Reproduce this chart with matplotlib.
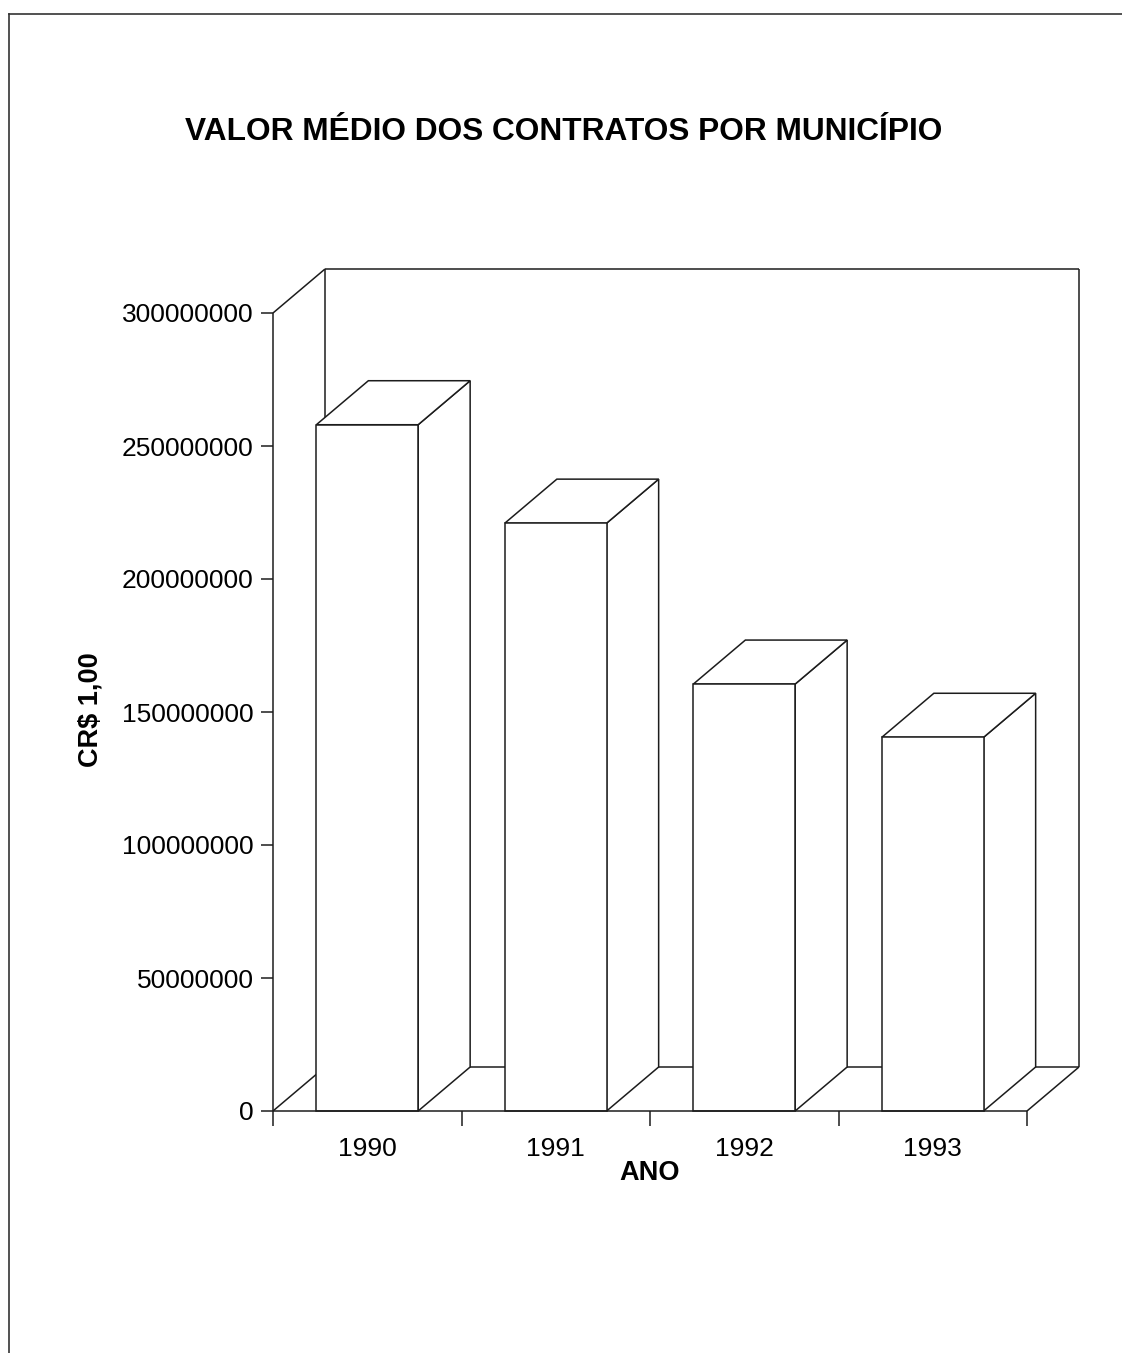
import matplotlib
matplotlib.use("Agg")
import matplotlib.pyplot as plt
from matplotlib.patches import Polygon
from matplotlib.lines import Line2D
import numpy as np

# ---- data ----
anos = ["1990", "1991", "1992", "1993"]
valores = [258_000_000, 221_000_000, 160_500_000, 140_500_000]
yticks = [0, 50_000_000, 100_000_000, 150_000_000, 200_000_000, 250_000_000, 300_000_000]
ytick_labels = [str(v) for v in yticks]

titulo = "VALOR MÉDIO DOS CONTRATOS POR MUNICÍPIO"
rotulo_y = "CR$ 1,00"
rotulo_x = "ANO"

# ---- style ----
FONT = "Liberation Sans"
INK = "#1c1c1c"
LW = 1.1
BAR_WIDTH = 0.54
DEPTH_PX = (52, 44)  # 3-D depth offset in display pixels (right, up)

W, H = 1122, 1353
fig = plt.figure(figsize=(W / 100, H / 100), dpi=100)
fig.patch.set_facecolor("white")

ax = fig.add_axes([273 / W, 1 - 1111 / H, 754 / W, 798 / H])
n = len(anos)
ax.set_xlim(-0.5, n - 0.5)
ax.set_ylim(yticks[0], yticks[-1])
for s in ax.spines.values():
    s.set_visible(False)
ax.patch.set_visible(False)

# depth offset expressed in data units
origin = ax.transData.transform((0, 0))
ddx, ddy = ax.transData.inverted().transform(origin + np.array(DEPTH_PX))

xl, xr = -0.5, n - 0.5
ytop = yticks[-1]


def seg(xs, ys, z=1):
    ax.plot(xs, ys, color=INK, lw=LW, clip_on=False, zorder=z,
            solid_capstyle="butt")


# back wall, floor and frame
seg([xl + ddx, xr + ddx], [ytop + ddy, ytop + ddy])
seg([xl + ddx, xl + ddx], [ddy, ytop + ddy])
seg([xr + ddx, xr + ddx], [ddy, ytop + ddy])
seg([xl + ddx, xr + ddx], [ddy, ddy])
seg([xl, xl + ddx], [0, ddy])
seg([xr, xr + ddx], [0, ddy])
seg([xl, xl + ddx], [ytop, ytop + ddy])
seg([xl, xl], [0, ytop], z=3)
seg([xl, xr], [0, 0], z=3)

# 3-D bars
for i, v in enumerate(valores):
    x0, x1 = i - BAR_WIDTH / 2, i + BAR_WIDTH / 2
    faces = [
        [(x1, 0), (x1 + ddx, ddy), (x1 + ddx, v + ddy), (x1, v)],
        [(x0, v), (x1, v), (x1 + ddx, v + ddy), (x0 + ddx, v + ddy)],
        [(x0, 0), (x1, 0), (x1, v), (x0, v)],
    ]
    for f in faces:
        ax.add_patch(Polygon(f, closed=True, facecolor="white", edgecolor=INK,
                             lw=LW, joinstyle="miter", clip_on=False, zorder=2))

# ticks
ax.set_yticks(yticks)
ax.set_yticklabels(ytick_labels, fontfamily=FONT, fontsize=19)
ax.tick_params(axis="y", direction="out", length=9, width=LW, color=INK, pad=5)

ax.set_xticks(np.arange(n + 1) - 0.5)
ax.set_xticklabels([])
ax.set_xticks(np.arange(n), minor=True)
ax.set_xticklabels(anos, minor=True, fontfamily=FONT, fontsize=19)
ax.tick_params(axis="x", which="major", direction="out", length=11, width=LW, color=INK)
ax.tick_params(axis="x", which="minor", length=0, pad=19)

# texts
fig.text(564 / W, 1 - 132 / H, titulo, ha="center", va="center",
         fontfamily=FONT, fontweight="bold", fontsize=22.8, color="black")
fig.text(90 / W, 1 - 710 / H, rotulo_y, ha="center", va="center", rotation=90,
         fontfamily=FONT, fontweight="bold", fontsize=19.5, color="black")
fig.text(650 / W, 1 - 1173 / H, rotulo_x, ha="center", va="center",
         fontfamily=FONT, fontweight="bold", fontsize=19.5, color="black")

# page frame (left and top edges)
fig.add_artist(Line2D([9 / W, 9 / W], [0, 1 - 14 / H], transform=fig.transFigure,
                      color="#333333", lw=1.2))
fig.add_artist(Line2D([9 / W, 1], [1 - 14 / H, 1 - 14 / H], transform=fig.transFigure,
                      color="#333333", lw=1.2))

fig.savefig("out.png", dpi=100, facecolor="white")
